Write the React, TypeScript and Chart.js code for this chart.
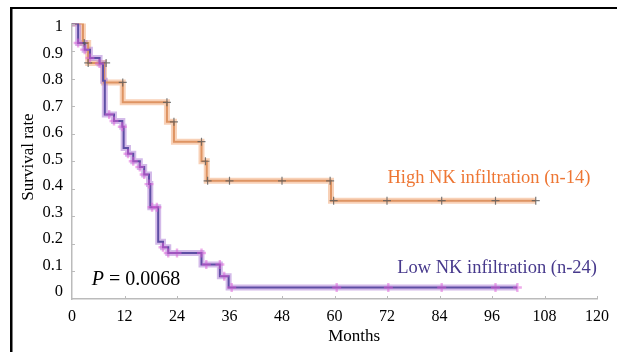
import { useEffect, useRef } from 'react';
import { Chart, registerables } from 'chart.js';

Chart.register(...registerables);

// ---- data ----
const highMonths = [0, 2.5, 3.7, 7.3, 11.6, 21.7, 23.3, 29.6, 30.8, 59.2, 106];
const highSurvival = [1, 0.929, 0.857, 0.786, 0.714, 0.643, 0.571, 0.5, 0.429, 0.357, 0.357];

const lowMonths = [0, 1.4, 2.9, 4.1, 6.3, 7.1, 7.5, 9.6, 11.5, 11.8, 12.8, 14.0, 15.5, 16.5, 17.6, 17.9, 19.7, 20.8, 22.0, 29.6, 33.8, 35.8, 101.8];
const lowSurvival = [1, 0.929, 0.905, 0.875, 0.855, 0.792, 0.67, 0.646, 0.625, 0.548, 0.527, 0.5, 0.479, 0.452, 0.417, 0.333, 0.208, 0.188, 0.167, 0.125, 0.083, 0.042, 0.042];

const highCensorMonths = [2.8, 3.7, 7.8, 11.6, 21.7, 23.3, 29.6, 30.5, 31, 36, 48, 59, 59.8, 72, 84.5, 96.8, 106];
const highCensorSurvival = [0.929, 0.857, 0.857, 0.786, 0.714, 0.643, 0.571, 0.5, 0.429, 0.429, 0.429, 0.429, 0.357, 0.357, 0.357, 0.357, 0.357];

const lowCensorMonths = [1.4, 2.9, 4.1, 6.3, 8.5, 9.6, 11.5, 12.8, 14, 15.5, 16.5, 17.6, 18.3, 19.4, 20.8, 22, 24, 29.6, 30.7, 33.8, 34.8, 36.5, 60.5, 72.3, 84.5, 96.8, 101.8];
const lowCensorSurvival = [0.929, 0.905, 0.875, 0.855, 0.67, 0.646, 0.625, 0.527, 0.5, 0.479, 0.452, 0.417, 0.333, 0.333, 0.188, 0.167, 0.167, 0.167, 0.125, 0.125, 0.083, 0.042, 0.042, 0.042, 0.042, 0.042, 0.042];

const xTicks = [0, 12, 24, 36, 48, 60, 72, 84, 96, 108, 120];
const yTicks = [0, 0.1, 0.2, 0.3, 0.4, 0.5, 0.6, 0.7, 0.8, 0.9, 1];
const yTickLabels = ['0', '0.1', '0.2', '0.3', '0.4', '0.5', '0.6', '0.7', '0.8', '0.9', '1'];

const highLabel = 'High NK infiltration (n-14)';
const lowLabel = 'Low NK infiltration (n-24)';
const pValueText = ' = 0.0068';
const xTitle = 'Months';
const yTitle = 'Survival rate';

const SERIF = '"Liberation Serif", "DejaVu Serif", serif';

const pts = (xs: number[], ys: number[]) => xs.map((x, i) => ({ x, y: ys[i] }));

const extras = {
  id: 'extras',
  afterDraw(chart: any) {
    const { ctx, chartArea } = chart;
    const xs = chart.scales.x;
    const ys = chart.scales.y;
    ctx.save();
    // frame
    ctx.fillStyle = '#000';
    ctx.fillRect(10, 7, 607, 2);
    ctx.fillRect(10, 7, 2.5, 345);
    // inner tick marks
    ctx.strokeStyle = '#bbb';
    ctx.lineWidth = 1;
    yTicks.slice(1).forEach((v) => {
      const y = Math.round(ys.getPixelForValue(v)) + 0.5;
      ctx.beginPath();
      ctx.moveTo(chartArea.left, y);
      ctx.lineTo(chartArea.left + 3, y);
      ctx.stroke();
    });
    xTicks.slice(1).forEach((v) => {
      const x = Math.round(xs.getPixelForValue(v)) + 0.5;
      ctx.beginPath();
      ctx.moveTo(x, chartArea.bottom);
      ctx.lineTo(x, chartArea.bottom - 3);
      ctx.stroke();
    });
    // series labels
    ctx.textBaseline = 'middle';
    ctx.font = `18.5px ${SERIF}`;
    ctx.textAlign = 'right';
    ctx.fillStyle = '#EE7633';
    ctx.fillText(highLabel, xs.getPixelForValue(118.5), ys.getPixelForValue(0.439));
    ctx.fillStyle = '#47398C';
    ctx.fillText(lowLabel, xs.getPixelForValue(120), ys.getPixelForValue(0.113));
    // p value
    ctx.fillStyle = '#000';
    ctx.textAlign = 'left';
    const px = xs.getPixelForValue(4.5);
    const py = ys.getPixelForValue(0.069);
    ctx.font = `italic 20px ${SERIF}`;
    ctx.fillText('P', px, py);
    const pw = ctx.measureText('P').width;
    ctx.font = `20px ${SERIF}`;
    ctx.fillText(pValueText, px + pw, py);
    // axis titles
    ctx.font = `17px ${SERIF}`;
    ctx.textAlign = 'center';
    ctx.fillText(xTitle, xs.getPixelForValue(64.5), 337);
    ctx.translate(28.5, 157);
    ctx.rotate(-Math.PI / 2);
    ctx.fillText(yTitle, 0, 0);
    ctx.restore();
  },
};

export default function App() {
  const ref = useRef<HTMLCanvasElement>(null);
  useEffect(() => {
    if (!ref.current) return;
    const highData = pts(highMonths, highSurvival);
    const lowData = pts(lowMonths, lowSurvival);
    const chart = new Chart(ref.current, {
      type: 'line',
      data: {
        datasets: [
          {
            data: pts(lowCensorMonths, lowCensorSurvival),
            showLine: false,
            pointStyle: 'cross',
            pointRadius: 4.5,
            pointBorderWidth: 2.4,
            pointBorderColor: 'rgba(222,92,215,0.5)',
            order: 1,
          } as any,
          {
            data: pts(highCensorMonths, highCensorSurvival),
            showLine: false,
            pointStyle: 'cross',
            pointRadius: 4,
            pointBorderWidth: 1.2,
            pointBorderColor: 'rgba(90,90,90,0.8)',
            order: 1,
          } as any,
          {
            data: lowData,
            stepped: true,
            borderColor: '#5E4EA4',
            borderWidth: 2,
            pointRadius: 0,
            order: 3,
          },
          {
            data: highData,
            stepped: true,
            borderColor: '#DE9463',
            borderWidth: 2,
            pointRadius: 0,
            order: 4,
          },
          {
            data: lowData,
            stepped: true,
            borderColor: 'rgba(175,130,215,0.55)',
            borderWidth: 6,
            pointRadius: 0,
            order: 6,
          },
          {
            data: highData,
            stepped: true,
            borderColor: 'rgba(244,178,135,0.6)',
            borderWidth: 6,
            pointRadius: 0,
            order: 7,
          },
        ],
      },
      options: {
        animation: false,
        responsive: false,
        devicePixelRatio: 1,
        layout: { padding: { top: 23.5, right: 13, left: 0, bottom: 0 } },
        plugins: { legend: { display: false }, tooltip: { enabled: false } },
        scales: {
          x: {
            type: 'linear',
            min: 0,
            max: 120,
            afterBuildTicks: (s: any) => {
              s.ticks = xTicks.map((v) => ({ value: v }));
            },
            afterFit: (s: any) => {
              s.height = 53;
            },
            grid: { drawOnChartArea: false, drawTicks: false },
            border: { display: true, color: '#bbb', width: 1.5 },
            ticks: {
              color: '#000',
              padding: 8,
              maxRotation: 0,
              font: { family: SERIF, size: 16 },
            },
          },
          y: {
            type: 'linear',
            display: false,
            min: 0,
            max: 1,
          },
          yl: {
            type: 'linear',
            position: 'left',
            min: -0.0264,
            max: 1.012,
            afterBuildTicks: (s: any) => {
              s.ticks = yTicks.map((v) => ({ value: v }));
            },
            afterFit: (s: any) => {
              s.width = 72;
            },
            grid: { drawOnChartArea: false, drawTicks: false },
            border: { display: true, color: '#bbb', width: 1.5 },
            ticks: {
              color: '#000',
              padding: 9,
              font: { family: SERIF, size: 16.5 },
              callback: (_v: any, i: number) => yTickLabels[i],
            },
          },
        },
      },
      plugins: [extras],
    });
    return () => chart.destroy();
  }, []);
  return (
    <div style={{ position: 'fixed', left: 0, top: 0, width: 617, height: 352, background: '#fff' }}>
      <canvas ref={ref} width={617} height={352} style={{ display: 'block' }} />
    </div>
  );
}
